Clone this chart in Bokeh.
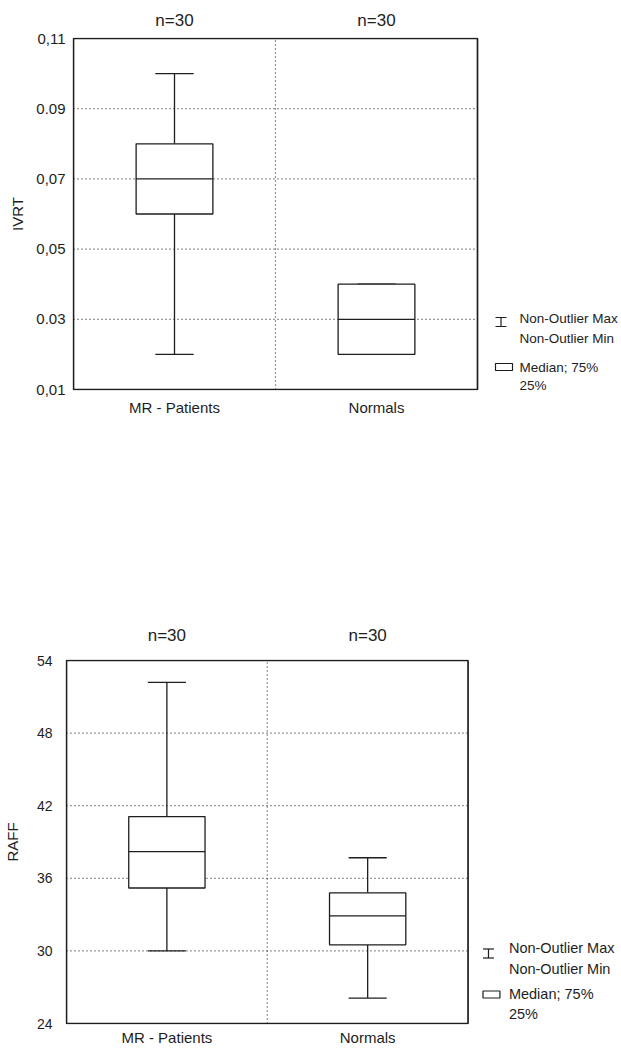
from bokeh.plotting import figure
from bokeh.models import Range1d, FixedTicker, LinearAxis
from bokeh.core.properties import value
from bokeh.embed import file_html
from bokeh.resources import INLINE

# ---------------- data ----------------
groups = ["MR - Patients", "Normals"]
counts = ["n=30", "n=30"]

ivrt_min = [0.02, 0.02]
ivrt_q1 = [0.06, 0.02]
ivrt_med = [0.07, 0.03]
ivrt_q3 = [0.08, 0.04]
ivrt_max = [0.10, 0.04]
ivrt_ticks = [0.01, 0.03, 0.05, 0.07, 0.09, 0.11]
ivrt_tick_labels = ["0,01", "0.03", "0,05", "0,07", "0.09", "0,11"]

raff_min = [30.0, 26.1]
raff_q1 = [35.2, 30.5]
raff_med = [38.2, 32.9]
raff_q3 = [41.1, 34.8]
raff_max = [52.2, 37.7]
raff_ticks = [24, 30, 36, 42, 48, 54]
raff_tick_labels = ["24", "30", "36", "42", "48", "54"]

legend_lines = ["Non-Outlier Max", "Non-Outlier Min", "Median; 75%", "25%"]

FONT = "Liberation Sans"
INK = "#1e1e1e"
W = 621


def make_panel(ylabel, mins, q1s, meds, q3s, maxs, ticks, tick_labels,
               height, box_left, box_w, box_top, box_bottom,
               tick_font, n_standoff, x_standoff, ylab_standoff, ytitle_standoff,
               leg_text_dx, leg_icon_dx, leg_text_dy, leg_ibeam_dy, leg_box_dy,
               leg_font):
    n = len(groups)
    pos = [i + 0.5 for i in range(n)]
    ymin, ymax = ticks[0], ticks[-1]
    box_h = box_bottom - box_top
    ppx = box_w / n                 # pixels per x unit
    ppy = box_h / (ymax - ymin)     # pixels per y unit
    pad = 1.0                       # px of frame outside the drawn box
    frame_left = box_left - pad
    x0 = -pad / ppx
    x1 = (W - box_left) / ppx
    p = figure(width=W, height=height,
               x_range=Range1d(x0, x1),
               y_range=Range1d(ymin - pad / ppy, ymax + pad / ppy),
               output_backend="svg", toolbar_location=None,
               min_border_left=int(frame_left), min_border_right=0,
               min_border_top=int(box_top - pad),
               min_border_bottom=int(height - box_bottom - pad))
    p.background_fill_color = "white"
    p.border_fill_color = "white"
    p.outline_line_color = None
    p.xgrid.visible = False
    p.ygrid.visible = False

    def style_axis(ax, standoff, size):
        ax.axis_line_color = None
        ax.major_tick_line_color = None
        ax.minor_tick_line_color = None
        ax.major_tick_out = 0
        ax.major_tick_in = 0
        ax.major_label_standoff = standoff
        ax.major_label_text_font = FONT
        ax.major_label_text_font_size = size
        ax.major_label_text_color = INK

    xa = p.xaxis[0]
    xa.ticker = FixedTicker(ticks=pos)
    xa.major_label_overrides = {x: g for x, g in zip(pos, groups)}
    style_axis(xa, x_standoff, "15px")

    ta = LinearAxis(ticker=FixedTicker(ticks=pos),
                    major_label_overrides={x: c for x, c in zip(pos, counts)})
    style_axis(ta, n_standoff, "17px")
    p.add_layout(ta, "above")

    ya = p.yaxis[0]
    ya.ticker = FixedTicker(ticks=ticks)
    ya.major_label_overrides = {t: l for t, l in zip(ticks, tick_labels)}
    style_axis(ya, ylab_standoff, tick_font)
    ya.axis_label = ylabel
    ya.axis_label_text_font = FONT
    ya.axis_label_text_font_size = "15px"
    ya.axis_label_text_font_style = "normal"
    ya.axis_label_text_color = INK
    ya.axis_label_standoff = ytitle_standoff

    # dotted grid inside the plot box
    inner = ticks[1:-1]
    p.segment(x0=[0] * len(inner), x1=[n] * len(inner), y0=inner, y1=inner,
              line_color="#333333", line_dash="1 3", line_width=1.2)
    dividers = list(range(1, n))
    p.segment(x0=dividers, x1=dividers, y0=[ymin] * len(dividers), y1=[ymax] * len(dividers),
              line_color="#333333", line_dash="1 3", line_width=1.2)
    # plot box
    p.quad(left=[0], right=[n], bottom=[ymin], top=[ymax], fill_color=None,
           line_color=INK, line_width=1.7)

    # whiskers
    cap = 0.095
    lw = 1.3
    p.segment(x0=pos, y0=q3s, x1=pos, y1=maxs, line_color=INK, line_width=lw)
    p.segment(x0=pos, y0=mins, x1=pos, y1=q1s, line_color=INK, line_width=lw)
    p.segment(x0=[x - cap for x in pos], y0=maxs, x1=[x + cap for x in pos], y1=maxs,
              line_color=INK, line_width=lw)
    p.segment(x0=[x - cap for x in pos], y0=mins, x1=[x + cap for x in pos], y1=mins,
              line_color=INK, line_width=lw)
    # boxes
    bw = 0.38
    p.vbar(x=pos, width=bw, bottom=q1s, top=q3s, fill_color="white",
           line_color=INK, line_width=lw)
    p.segment(x0=[x - bw / 2 for x in pos], y0=meds, x1=[x + bw / 2 for x in pos], y1=meds,
              line_color=INK, line_width=lw)

    # legend to the right of the plot box (offsets in px converted to data units)
    def lx(dx):
        return n + dx / ppx

    def ly(dy):
        return ymin + dy / ppy

    p.text(x=[lx(leg_text_dx)] * len(legend_lines), y=[ly(d) for d in leg_text_dy],
           text=legend_lines, text_font=value(FONT), text_font_size=value(leg_font),
           text_baseline="middle", text_align="left", text_color=INK)
    ix0, ix1, ixm = lx(leg_icon_dx), lx(leg_icon_dx + 11), lx(leg_icon_dx + 5.5)
    yt, yb = ly(leg_ibeam_dy + 4.5), ly(leg_ibeam_dy - 4.5)
    p.segment(x0=[ix0, ix0, ixm], x1=[ix1, ix1, ixm], y0=[yt, yb, yb], y1=[yt, yb, yt],
              line_color=INK, line_width=1.2)
    p.quad(left=[ix0], right=[lx(leg_icon_dx + 17)],
           bottom=[ly(leg_box_dy - 3.5)], top=[ly(leg_box_dy + 3.5)],
           fill_color="white", line_color=INK, line_width=1.2)
    return p


p1 = make_panel("IVRT", ivrt_min, ivrt_q1, ivrt_med, ivrt_q3, ivrt_max,
                ivrt_ticks, ivrt_tick_labels,
                height=440, box_left=73, box_w=404, box_top=38, box_bottom=389,
                tick_font="15px", n_standoff=8, x_standoff=8, ylab_standoff=7,
                ytitle_standoff=7,
                leg_text_dx=42, leg_icon_dx=18, leg_text_dy=[71, 51, 22, 4],
                leg_ibeam_dy=67.5, leg_box_dy=22.5, leg_font="13.5px")
p2 = make_panel("RAFF", raff_min, raff_q1, raff_med, raff_q3, raff_max,
                raff_ticks, raff_tick_labels,
                height=609, box_left=64, box_w=403, box_top=220, box_bottom=583,
                tick_font="14px", n_standoff=15, x_standoff=4, ylab_standoff=13,
                ytitle_standoff=13,
                leg_text_dx=41, leg_icon_dx=15, leg_text_dy=[76, 55, 30, 10],
                leg_ibeam_dy=70, leg_box_dy=29, leg_font="14.5px")

open("out.html", "w").write(file_html([p1, p2], INLINE))
